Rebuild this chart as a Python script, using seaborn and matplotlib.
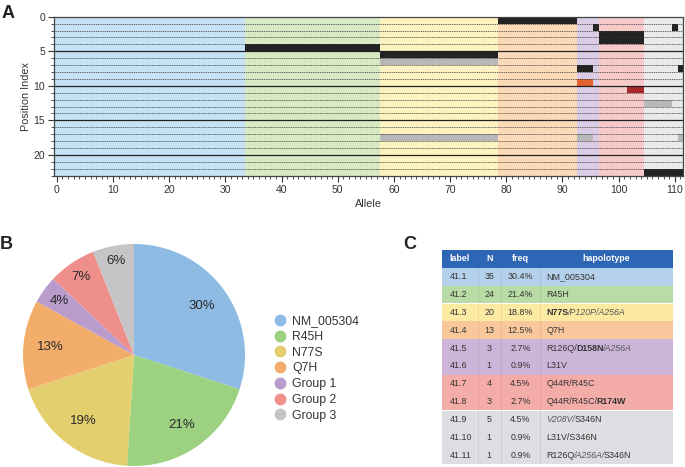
import re
import numpy as np
import pandas as pd
import matplotlib
matplotlib.use("Agg")
import matplotlib.pyplot as plt
import seaborn as sns
from matplotlib.colors import ListedColormap
from matplotlib.lines import Line2D
from matplotlib.patches import Rectangle

# ---------------- data ----------------
group_names = ["NM_005304", "R45H", "N77S", "Q7H", "Group 1", "Group 2", "Group 3"]
group_sizes = [34, 24, 21, 14, 4, 8, 7]          # alleles per group (panel A columns)
n_positions = 23                                 # rows in panel A

# coloured blocks in panel A: row, first allele, last allele, kind
block_rows  = [0, 1, 1, 2, 3, 4, 5, 6, 7, 7, 9, 10, 12, 17, 17, 17, 22]
block_start = [79, 96, 110, 97, 97, 34, 58, 58, 93, 111, 93, 102, 105, 58, 93, 111, 105]
block_end   = [92, 96, 110, 104, 104, 57, 78, 78, 95, 111, 95, 104, 109, 78, 95, 111, 111]
block_kind  = ["black", "black", "black", "black", "black", "black", "black", "gray",
               "black", "black", "orange", "darkred", "gray", "gray", "gray", "gray", "black"]

pie_pct = [30, 21, 19, 13, 4, 7, 6]

tab_header = ["label", "N", "freq", "hapolotype"]
tab_label = ["41.1", "41.2", "41.3", "41.4", "41.5", "41.6", "41.7", "41.8", "41.9", "41.10", "41.11"]
tab_n = [35, 24, 20, 13, 3, 1, 4, 3, 5, 1, 1]
tab_freq = ["30.4%", "21.4%", "18.8%", "12.5%", "2.7%", "0.9%", "4.5%", "2.7%", "4.5%", "0.9%", "0.9%"]
# *bold*  ~italic~
tab_hap = ["NM_005304", "R45H", "*N77S*~/P120P/A256A~", "Q7H", "R126Q/*D158N*~/A256A~",
           "L31V", "Q44R/R45C", "Q44R/R45C/*R174W*", "~V208V/~S346N", "L31V/S346N",
           "R126Q~/A256A/~S346N"]
tab_group = [0, 1, 2, 3, 4, 4, 5, 5, 6, 6, 6]

# ---------------- style ----------------
sns.set_theme(style="ticks")
plt.rcParams["font.family"] = ["Liberation Sans", "DejaVu Sans"]
TXT = "#333333"

bgA = ["#c6e2f5", "#d7eac4", "#fdf3c0", "#fcd9b7", "#dccde6", "#f8c9c9", "#eaeaec"]
kinds = ["black", "gray", "orange", "darkred"]
kind_cols = ["#232323", "#b8b8b8", "#e3642e", "#a8282c"]
pie_cols = ["#8dbbe3", "#9bd180", "#e4cf6f", "#f2ad6b", "#b99bcc", "#ee8f8c", "#c5c5c5"]
tab_cols = ["#b4d0ea", "#b9dca6", "#fce9a2", "#f8c89c", "#cdb5d9", "#f4aca8", "#dcdee1"]
head_col = "#2d66b5"

W, H = 685, 467
fig = plt.figure(figsize=(W / 100, H / 100), dpi=100)

def fr(x0, y0, x1, y1):
    return [x0 / W, 1 - y1 / H, (x1 - x0) / W, (y1 - y0) / H]

# ---------------- panel A ----------------
axA = fig.add_axes(fr(54, 16.7, 683.3, 175.7))
col_group = np.repeat(np.arange(len(group_sizes)), group_sizes)
codes = np.tile(col_group, (n_positions, 1))
for r, a, b, k in zip(block_rows, block_start, block_end, block_kind):
    codes[r, a:b + 1] = len(bgA) + kinds.index(k)
palette = bgA + kind_cols
sns.heatmap(pd.DataFrame(codes), cmap=ListedColormap(palette), vmin=-0.5,
            vmax=len(palette) - 0.5, cbar=False, ax=axA,
            xticklabels=False, yticklabels=False)
ncol = codes.shape[1]
for y in range(1, n_positions):
    if y % 5 == 0:
        axA.hlines(y, 0, ncol, colors="#222222", lw=0.9)
    else:
        axA.hlines(y, 0, ncol, colors="#333333", lw=0.5, linestyles=(0, (1.6, 1.0)))
axA.set_xlim(0, ncol)
axA.set_ylim(n_positions, 0)
for s in axA.spines.values():
    s.set_visible(True)
    s.set_color("#444444")
    s.set_linewidth(0.9)
xt = np.arange(0, ncol, 10)
axA.set_xticks(xt + 0.5)
axA.set_xticklabels([str(v) for v in xt])
axA.set_xticks(np.arange(ncol) + 0.5, minor=True)
yt = np.arange(0, n_positions, 5)
axA.set_yticks(yt)
axA.set_yticklabels([str(v) for v in yt], rotation=0)
axA.set_yticks(np.arange(n_positions + 1), minor=True)
axA.tick_params(which="both", bottom=True, left=True, top=False, right=False,
                direction="out", colors="#333333")
axA.tick_params(which="major", length=4, width=0.8, labelsize=7.5, pad=2.5)
axA.tick_params(which="minor", length=2.5, width=0.6)
axA.set_xlabel("Allele", fontsize=7.8, color=TXT, labelpad=3)
axA.set_ylabel("Position Index", fontsize=7.8, color=TXT, labelpad=2)

# ---------------- panel B ----------------
r_px = 111
side = 2.4 * r_px
cx, cy = 134, 355
axB = fig.add_axes(fr(cx - side / 2, cy - side / 2, cx + side / 2, cy + side / 2))
wedges, texts, autotexts = axB.pie(
    pie_pct, colors=pie_cols, startangle=90, counterclock=False,
    autopct=lambda p: f"{p:.0f}%", pctdistance=0.75,
    wedgeprops=dict(linewidth=0),
    textprops=dict(fontsize=9.5, color="#2a2a2a"))
dists = [0.75, 0.76, 0.75, 0.76, 0.83, 0.85, 0.86]
for w, t, d in zip(wedges, autotexts, dists):
    ang = np.deg2rad((w.theta1 + w.theta2) / 2)
    t.set_position((d * np.cos(ang), d * np.sin(ang)))
axB.set_xlim(-1.2, 1.2)
axB.set_ylim(-1.2, 1.2)
axB.set_aspect("equal")

handles = [Line2D([0], [0], marker="o", ls="", color=c, markersize=7.5) for c in pie_cols]
leg = fig.legend(handles, group_names, loc="upper left",
                 bbox_to_anchor=(275 / W, 1 - 315 / H), frameon=False,
                 fontsize=8.8, handlelength=0.8, handletextpad=0.6,
                 labelspacing=0.31, borderaxespad=0, borderpad=0)
for t in leg.get_texts():
    t.set_color(TXT)

# ---------------- panel C ----------------
tx0, ty0, tx1, ty1 = 441.7, 250, 673.3, 464
axC = fig.add_axes(fr(tx0, ty0, tx1, ty1))
tw, th = tx1 - tx0, ty1 - ty0
axC.set_xlim(0, tw)
axC.set_ylim(th, 0)
axC.axis("off")
col_edges = [0, 36, 59, 98.3, tw]
nrow = len(tab_label) + 1
rh = th / nrow
fs = 6.4

axC.add_patch(Rectangle((0, 0), tw, rh, color=head_col, lw=0))
hx = [7.6, (col_edges[1] + col_edges[2]) / 2, (col_edges[2] + col_edges[3]) / 2,
      (col_edges[3] + col_edges[4]) / 2]
hha = ["left", "center", "center", "center"]
for x, ha, s in zip(hx, hha, tab_header):
    axC.text(x, rh / 2, s, ha=ha, va="center", fontsize=fs, color="white",
             fontweight="bold")

def draw_segments(ax, x, y, s):
    parts = re.split(r"(\*[^*]+\*|~[^~]+~)", s)
    prev = None
    for p in parts:
        if not p:
            continue
        kw = dict(fontsize=fs, color=TXT, fontweight="normal", fontstyle="normal")
        if p.startswith("*"):
            p = p[1:-1]
            kw["fontweight"] = "bold"
        elif p.startswith("~"):
            p = p[1:-1]
            kw["fontstyle"] = "italic"
            kw["color"] = "#5a5a5a"
        if prev is None:
            prev = ax.text(x, y, p, ha="left", va="center", **kw)
        else:
            prev = ax.annotate(p, xy=(1, 0.5), xycoords=prev, xytext=(-0.9, 0),
                               textcoords="offset points", ha="left", va="center", **kw)

for i, (lab, n, fq, hap, g) in enumerate(zip(tab_label, tab_n, tab_freq, tab_hap, tab_group)):
    y0 = (i + 1) * rh
    axC.add_patch(Rectangle((0, y0), tw, rh, color=tab_cols[g], lw=0))
    yc = y0 + rh / 2
    axC.text(7.6, yc, lab, ha="left", va="center", fontsize=fs, color=TXT)
    axC.text(hx[1], yc, str(n), ha="center", va="center", fontsize=fs, color=TXT)
    axC.text(hx[2], yc, fq, ha="center", va="center", fontsize=fs, color=TXT)
    draw_segments(axC, col_edges[3] + 6.7, yc, hap)
for xe in col_edges[1:4]:
    axC.vlines(xe, rh, th, colors=(0, 0, 0, 0.08), lw=0.6)

# ---------------- panel letters ----------------
fig.text(2 / W, 1 - 5 / H, "A", fontsize=13, fontweight="bold", va="top", color="#222222")
fig.text(0 / W, 1 - 236 / H, "B", fontsize=13, fontweight="bold", va="top", color="#222222")
fig.text(403 / W, 1 - 236 / H, "C", fontsize=13, fontweight="bold", va="top", color="#222222")

fig.savefig("out.png", dpi=100)
